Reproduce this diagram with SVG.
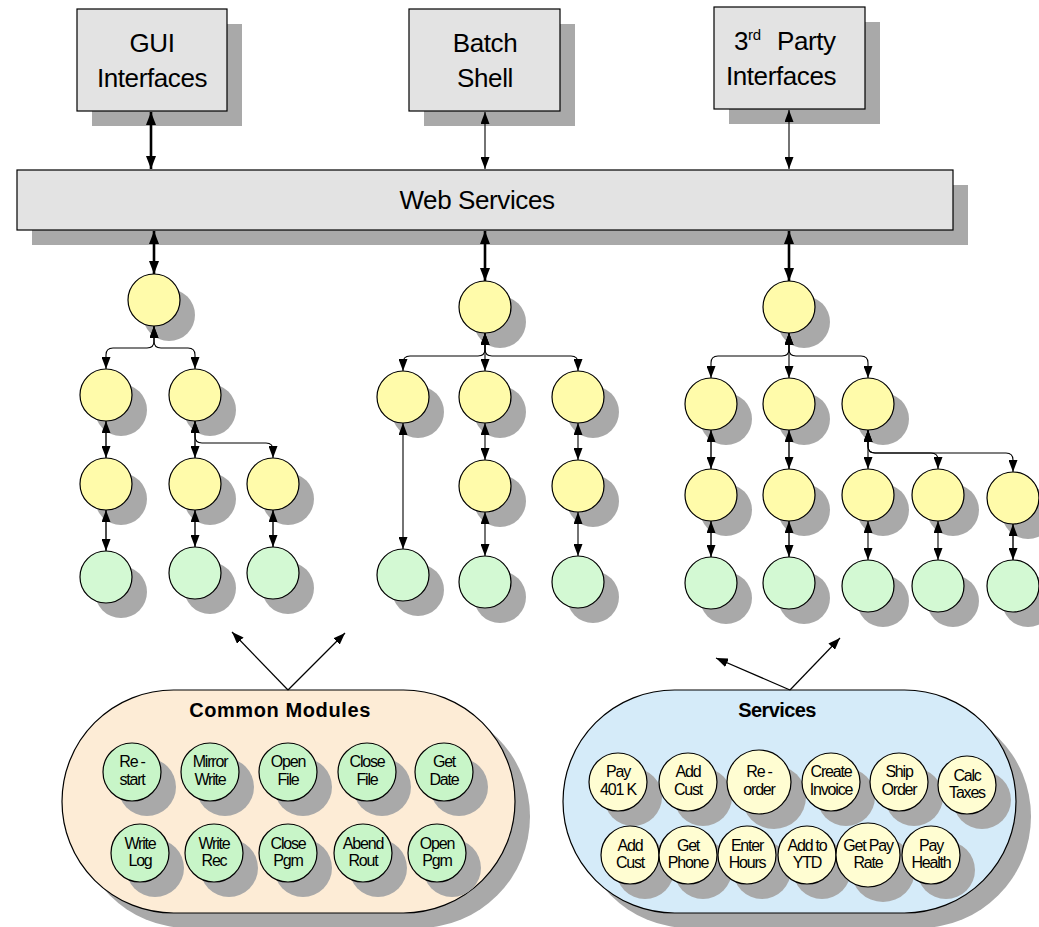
<svg xmlns="http://www.w3.org/2000/svg" width="1039" height="927" viewBox="0 0 1039 927">
  <style>
    text { font-family: "Liberation Sans", Arial, sans-serif; fill: #000; }
    .box { fill: #e3e3e3; stroke: #000; stroke-width: 1.2; }
    .shd { fill: #a9a9a9; stroke: none; }
    .big { font-size: 26px; text-anchor: middle; letter-spacing: -0.4px; }
    .ttl { font-size: 20px; font-weight: bold; text-anchor: middle; }
    .sm { font-size: 16px; text-anchor: middle; letter-spacing: -1.2px; }
    .ny { fill: #fffbaa; stroke: #000; stroke-width: 1.2; }
    .ng { fill: #d3f9d3; stroke: #000; stroke-width: 1.2; }
    .mg { fill: #c8f5c8; stroke: #000; stroke-width: 1.2; }
    .sy { fill: #fffdd2; stroke: #000; stroke-width: 1.2; }
    .cap1 { fill: #fdecd6; stroke: #000; stroke-width: 1.2; }
    .cap2 { fill: #d5ebf9; stroke: #000; stroke-width: 1.2; }
    .ln { fill: none; stroke: #000; stroke-width: 1.4; marker-start: url(#ah); marker-end: url(#ah); }
    .lt { fill: none; stroke: #000; stroke-width: 1.1; marker-start: url(#ah); marker-end: url(#ah); }
    .lk { fill: none; stroke: #000; stroke-width: 2.6; marker-start: url(#ahk); marker-end: url(#ahk); }
    .lo { fill: none; stroke: #000; stroke-width: 1.2; marker-end: url(#ah); }
  </style>
  <defs>
    <marker id="ah" viewBox="0 0 12 9" refX="12" refY="4.5" markerWidth="12" markerHeight="9" markerUnits="userSpaceOnUse" orient="auto-start-reverse">
      <path d="M0,0 L12,4.5 L0,9 z" fill="#000"/>
    </marker>
    <marker id="ahk" viewBox="0 0 13 10" refX="13" refY="5" markerWidth="13" markerHeight="10" markerUnits="userSpaceOnUse" orient="auto-start-reverse">
      <path d="M0,0 L13,5 L0,10 z" fill="#000"/>
    </marker>
    <!-- drop shadow for a tree node, offset down and right -->
    <symbol id="t" overflow="visible"><circle r="26" class="shd" cx="15" cy="15"/></symbol>
  </defs>

  <rect width="1039" height="927" fill="#fff"/>

  <!-- interface boxes -->
  <g id="gui">
    <rect class="shd" x="92" y="24" width="150" height="102"/>
    <rect class="box" x="77" y="9" width="150" height="102"/>
    <text class="big" x="152" y="52">GUI</text>
    <text class="big" x="152" y="87">Interfaces</text>
  </g>
  <g id="batch">
    <rect class="shd" x="424" y="24" width="151" height="102"/>
    <rect class="box" x="409" y="9" width="151" height="102"/>
    <text class="big" x="485" y="52">Batch</text>
    <text class="big" x="485" y="87">Shell</text>
  </g>
  <g id="third-party">
    <rect class="shd" x="729" y="22" width="151" height="102"/>
    <rect class="box" x="714" y="7" width="151" height="102"/>
    <text class="big" x="734" y="50" style="text-anchor:start">3<tspan font-size="15" dy="-10">rd</tspan><tspan x="777" dy="10">Party</tspan></text>
    <text class="big" x="781" y="85">Interfaces</text>
  </g>

  <!-- web services bar -->
  <g id="web-services">
    <rect class="shd" x="32" y="185" width="936" height="60"/>
    <rect class="box" x="17" y="170" width="936" height="60"/>
    <text class="big" x="477" y="209">Web Services</text>
  </g>

  <!-- tree 1 -->
  <g id="t1-root"><use href="#t" x="154" y="300"/><circle class="ny" cx="154" cy="300" r="26"/></g>
  <g id="t1-a1"><use href="#t" x="106" y="395"/><circle class="ny" cx="106" cy="395" r="26"/></g>
  <g id="t1-b1"><use href="#t" x="195" y="395"/><circle class="ny" cx="195" cy="395" r="26"/></g>
  <g id="t1-a2"><use href="#t" x="106" y="484"/><circle class="ny" cx="106" cy="484" r="26"/></g>
  <g id="t1-b2"><use href="#t" x="195" y="484"/><circle class="ny" cx="195" cy="484" r="26"/></g>
  <g id="t1-c2"><use href="#t" x="273" y="484"/><circle class="ny" cx="273" cy="484" r="26"/></g>
  <g id="t1-a3"><use href="#t" x="106" y="577"/><circle class="ng" cx="106" cy="577" r="26"/></g>
  <g id="t1-b3"><use href="#t" x="195" y="573"/><circle class="ng" cx="195" cy="573" r="26"/></g>
  <g id="t1-c3"><use href="#t" x="273" y="573"/><circle class="ng" cx="273" cy="573" r="26"/></g>

  <!-- tree 2 -->
  <g id="t2-root"><use href="#t" x="485" y="307"/><circle class="ny" cx="485" cy="307" r="26"/></g>
  <g id="t2-a1"><use href="#t" x="403" y="397"/><circle class="ny" cx="403" cy="397" r="26"/></g>
  <g id="t2-b1"><use href="#t" x="485" y="397"/><circle class="ny" cx="485" cy="397" r="26"/></g>
  <g id="t2-c1"><use href="#t" x="578" y="397"/><circle class="ny" cx="578" cy="397" r="26"/></g>
  <g id="t2-b2"><use href="#t" x="485" y="486"/><circle class="ny" cx="485" cy="486" r="26"/></g>
  <g id="t2-c2"><use href="#t" x="578" y="486"/><circle class="ny" cx="578" cy="486" r="26"/></g>
  <g id="t2-a3"><use href="#t" x="403" y="575"/><circle class="ng" cx="403" cy="575" r="26"/></g>
  <g id="t2-b3"><use href="#t" x="485" y="582"/><circle class="ng" cx="485" cy="582" r="26"/></g>
  <g id="t2-c3"><use href="#t" x="578" y="582"/><circle class="ng" cx="578" cy="582" r="26"/></g>

  <!-- tree 3 -->
  <g id="t3-root"><use href="#t" x="789" y="307"/><circle class="ny" cx="789" cy="307" r="26"/></g>
  <g id="t3-a1"><use href="#t" x="711" y="404"/><circle class="ny" cx="711" cy="404" r="26"/></g>
  <g id="t3-b1"><use href="#t" x="789" y="404"/><circle class="ny" cx="789" cy="404" r="26"/></g>
  <g id="t3-c1"><use href="#t" x="868" y="404"/><circle class="ny" cx="868" cy="404" r="26"/></g>
  <g id="t3-a2"><use href="#t" x="711" y="495"/><circle class="ny" cx="711" cy="495" r="26"/></g>
  <g id="t3-b2"><use href="#t" x="789" y="495"/><circle class="ny" cx="789" cy="495" r="26"/></g>
  <g id="t3-c2"><use href="#t" x="868" y="495"/><circle class="ny" cx="868" cy="495" r="26"/></g>
  <g id="t3-d2"><use href="#t" x="938" y="495"/><circle class="ny" cx="938" cy="495" r="26"/></g>
  <g id="t3-e2"><use href="#t" x="1013" y="498"/><circle class="ny" cx="1013" cy="498" r="26"/></g>
  <g id="t3-a3"><use href="#t" x="711" y="583"/><circle class="ng" cx="711" cy="583" r="26"/></g>
  <g id="t3-b3"><use href="#t" x="789" y="583"/><circle class="ng" cx="789" cy="583" r="26"/></g>
  <g id="t3-c3"><use href="#t" x="868" y="586"/><circle class="ng" cx="868" cy="586" r="26"/></g>
  <g id="t3-d3"><use href="#t" x="938" y="586"/><circle class="ng" cx="938" cy="586" r="26"/></g>
  <g id="t3-e3"><use href="#t" x="1013" y="586"/><circle class="ng" cx="1013" cy="586" r="26"/></g>

  <!-- common modules pool -->
  <g id="common-modules">
    <rect class="shd" x="77" y="705" width="453" height="223" rx="111.5"/>
    <rect class="cap1" x="62" y="690" width="453" height="223" rx="111.5"/>
    <text class="ttl" x="280" y="717" letter-spacing="0.6">Common Modules</text>
    <g id="cm-restart"><circle class="shd" cx="147" cy="787" r="29"/><circle class="mg" cx="132" cy="772" r="29"/><text class="sm" x="132" y="767">Re -</text><text class="sm" x="132" y="785">start</text></g>
    <g id="cm-mirror"><circle class="shd" cx="225" cy="787" r="29"/><circle class="mg" cx="210" cy="772" r="29"/><text class="sm" x="210" y="767">Mirror</text><text class="sm" x="210" y="785">Write</text></g>
    <g id="cm-openfile"><circle class="shd" cx="303" cy="787" r="29"/><circle class="mg" cx="288" cy="772" r="29"/><text class="sm" x="288" y="767">Open</text><text class="sm" x="288" y="785">File</text></g>
    <g id="cm-closefile"><circle class="shd" cx="382" cy="787" r="29"/><circle class="mg" cx="367" cy="772" r="29"/><text class="sm" x="367" y="767">Close</text><text class="sm" x="367" y="785">File</text></g>
    <g id="cm-getdate"><circle class="shd" cx="459" cy="787" r="29"/><circle class="mg" cx="444" cy="772" r="29"/><text class="sm" x="444" y="767">Get</text><text class="sm" x="444" y="785">Date</text></g>
    <g id="cm-writelog"><circle class="shd" cx="155" cy="868" r="29"/><circle class="mg" cx="140" cy="853" r="29"/><text class="sm" x="140" y="849">Write</text><text class="sm" x="140" y="866">Log</text></g>
    <g id="cm-writerec"><circle class="shd" cx="229" cy="868" r="29"/><circle class="mg" cx="214" cy="853" r="29"/><text class="sm" x="214" y="849">Write</text><text class="sm" x="214" y="866">Rec</text></g>
    <g id="cm-closepgm"><circle class="shd" cx="303" cy="868" r="29"/><circle class="mg" cx="288" cy="853" r="29"/><text class="sm" x="288" y="849">Close</text><text class="sm" x="288" y="866">Pgm</text></g>
    <g id="cm-abend"><circle class="shd" cx="378" cy="868" r="29"/><circle class="mg" cx="363" cy="853" r="29"/><text class="sm" x="363" y="849">Abend</text><text class="sm" x="363" y="866">Rout</text></g>
    <g id="cm-openpgm"><circle class="shd" cx="452" cy="868" r="29"/><circle class="mg" cx="437" cy="853" r="29"/><text class="sm" x="437" y="849">Open</text><text class="sm" x="437" y="866">Pgm</text></g>
  </g>

  <!-- services pool -->
  <g id="services">
    <rect class="shd" x="578" y="705" width="453" height="223" rx="111.5"/>
    <rect class="cap2" x="563" y="690" width="453" height="223" rx="111.5"/>
    <text class="ttl" x="777" y="717" letter-spacing="-0.6">Services</text>
    <g id="sv-pay401k"><circle class="shd" cx="633" cy="797" r="29"/><circle class="sy" cx="618" cy="782" r="29"/><text class="sm" x="618" y="777">Pay</text><text class="sm" x="618" y="795">401 K</text></g>
    <g id="sv-addcust1"><circle class="shd" cx="703" cy="797" r="29"/><circle class="sy" cx="688" cy="782" r="29"/><text class="sm" x="688" y="777">Add</text><text class="sm" x="688" y="795">Cust</text></g>
    <g id="sv-reorder"><circle class="shd" cx="774" cy="797" r="32"/><circle class="sy" cx="759" cy="782" r="32"/><text class="sm" x="759" y="777">Re -</text><text class="sm" x="759" y="795">order</text></g>
    <g id="sv-invoice"><circle class="shd" cx="846" cy="797" r="29"/><circle class="sy" cx="831" cy="782" r="29"/><text class="sm" x="831" y="777">Create</text><text class="sm" x="831" y="795">Invoice</text></g>
    <g id="sv-ship"><circle class="shd" cx="914" cy="797" r="29"/><circle class="sy" cx="899" cy="782" r="29"/><text class="sm" x="899" y="777">Ship</text><text class="sm" x="899" y="795">Order</text></g>
    <g id="sv-taxes"><circle class="shd" cx="982" cy="800" r="29"/><circle class="sy" cx="967" cy="785" r="29"/><text class="sm" x="967" y="781">Calc</text><text class="sm" x="967" y="798">Taxes</text></g>
    <g id="sv-addcust2"><circle class="shd" cx="645" cy="870" r="29"/><circle class="sy" cx="630" cy="855" r="29"/><text class="sm" x="630" y="851">Add</text><text class="sm" x="630" y="868">Cust</text></g>
    <g id="sv-phone"><circle class="shd" cx="703" cy="870" r="29"/><circle class="sy" cx="688" cy="855" r="29"/><text class="sm" x="688" y="851">Get</text><text class="sm" x="688" y="868">Phone</text></g>
    <g id="sv-hours"><circle class="shd" cx="762" cy="870" r="29"/><circle class="sy" cx="747" cy="855" r="29"/><text class="sm" x="747" y="851">Enter</text><text class="sm" x="747" y="868">Hours</text></g>
    <g id="sv-ytd"><circle class="shd" cx="822" cy="870" r="29"/><circle class="sy" cx="807" cy="855" r="29"/><text class="sm" x="807" y="851">Add to</text><text class="sm" x="807" y="868">YTD</text></g>
    <g id="sv-payrate"><circle class="shd" cx="883" cy="870" r="32"/><circle class="sy" cx="868" cy="855" r="32"/><text class="sm" x="868" y="851">Get Pay</text><text class="sm" x="868" y="868">Rate</text></g>
    <g id="sv-health"><circle class="shd" cx="946" cy="870" r="29"/><circle class="sy" cx="931" cy="855" r="29"/><text class="sm" x="931" y="851">Pay</text><text class="sm" x="931" y="868">Health</text></g>
  </g>

  <!-- connectors -->
  <g id="connectors">
    <path class="lk" d="M151,112 V169"/>
    <path class="lt" d="M485,112 V169"/>
    <path class="lt" d="M789,110 V169"/>

    <path class="lk" d="M154,231 V274"/>
    <path class="lk" d="M485,231 V281"/>
    <path class="lk" d="M789,231 V281"/>

    <path class="lt" d="M154,326 V341 Q154,348 147,348 H113 Q106,348 106,355 V369"/>
    <path class="lt" d="M154,326 V341 Q154,348 161,348 H188 Q195,348 195,355 V369"/>
    <path class="ln" d="M106,421 V458"/>
    <path class="ln" d="M106,510 V551"/>
    <path class="ln" d="M195,421 V458"/>
    <path class="lt" d="M195,421 V436 Q195,443 202,443 H266 Q273,443 273,450 V458"/>
    <path class="ln" d="M195,510 V547"/>
    <path class="ln" d="M273,510 V547"/>

    <path class="lt" d="M485,333 V349 Q485,356 478,356 H410 Q403,356 403,363 V371"/>
    <path class="lt" d="M485,333 V371"/>
    <path class="lt" d="M485,333 V349 Q485,356 492,356 H571 Q578,356 578,363 V371"/>
    <path class="lt" d="M403,423 V549"/>
    <path class="lt" d="M485,423 V460"/>
    <path class="lt" d="M485,512 V556"/>
    <path class="lt" d="M578,423 V460"/>
    <path class="lt" d="M578,512 V556"/>

    <path class="lt" d="M789,333 V349 Q789,356 782,356 H718 Q711,356 711,363 V378"/>
    <path class="lt" d="M789,333 V378"/>
    <path class="lt" d="M789,333 V349 Q789,356 796,356 H861 Q868,356 868,363 V378"/>
    <path class="ln" d="M711,430 V469"/>
    <path class="ln" d="M789,430 V469"/>
    <path class="lt" d="M868,430 V469"/>
    <path class="lt" d="M868,430 V446 Q868,453 875,453 H931 Q938,453 938,460 V469"/>
    <path class="lt" d="M868,430 V446 Q868,453 875,453 H1006 Q1013,453 1013,460 V472"/>
    <path class="ln" d="M711,521 V557"/>
    <path class="ln" d="M789,521 V557"/>
    <path class="lt" d="M868,521 V560"/>
    <path class="lt" d="M938,521 V560"/>
    <path class="ln" d="M1013,524 V560"/>

    <path class="lo" d="M288,690 L232,632"/>
    <path class="lo" d="M288,690 L345,633"/>
    <path class="lo" d="M790,690 L716,658"/>
    <path class="lo" d="M790,690 L840,638"/>
  </g>
</svg>
